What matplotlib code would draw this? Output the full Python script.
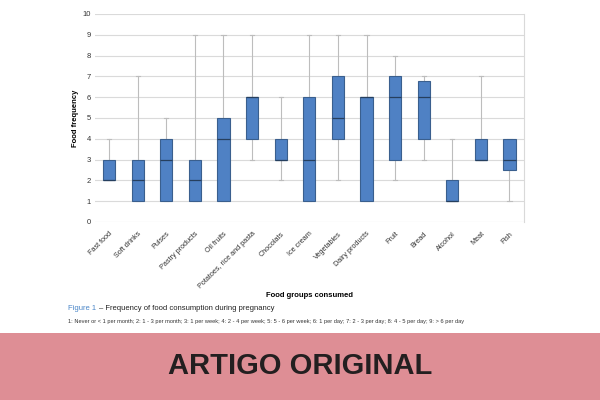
import matplotlib
matplotlib.use("Agg")
import matplotlib.pyplot as plt
from matplotlib.patches import Rectangle

plt.rcParams['font.family'] = ['Liberation Sans', 'DejaVu Sans']

categories = ["Fast food", "Soft drinks", "Pulses", "Pastry products", "Oil fruits",
              "Potatoes, rice and pasta", "Chocolats", "Ice cream", "Vegetables",
              "Dairy products", "Fruit", "Bread", "Alcohol", "Meat", "Fish"]
whisker_low = [2, 1, 1, 1, 1, 3, 2, 1, 2, 1, 2, 3, 1, 3, 1]
q1 = [2, 1, 1, 1, 1, 4, 3, 1, 4, 1, 3, 4, 1, 3, 2.5]
median = [2, 2, 3, 2, 4, 6, 3, 3, 5, 6, 6, 6, 1, 3, 3]
q3 = [3, 3, 4, 3, 5, 6, 4, 6, 7, 6, 7, 6.8, 2, 4, 4]
whisker_high = [4, 7, 5, 9, 9, 9, 6, 9, 9, 9, 8, 7, 4, 7, 4]
y_ticks = list(range(0, 11))

stats = []
for name, lo, a, m, b, hi in zip(categories, whisker_low, q1, median, q3, whisker_high):
    stats.append(dict(label=name, whislo=lo, q1=a, med=m, q3=b, whishi=hi, fliers=[]))

fig = plt.figure(figsize=(6, 4), dpi=100)
ax = fig.add_axes([0.158, 0.445, 0.715, 0.52])

ax.bxp(stats, positions=range(len(categories)), widths=0.42, patch_artist=True,
       showfliers=False, capwidths=0.15,
       boxprops=dict(facecolor="#4f81c4", edgecolor="#3a5f8e", linewidth=0.8, zorder=3),
       medianprops=dict(color="#263f5e", linewidth=0.9, zorder=4),
       whiskerprops=dict(color="#bdbdbd", linewidth=0.8, zorder=2),
       capprops=dict(color="#bdbdbd", linewidth=0.8, zorder=2))

ax.set_xlim(-0.5, len(categories) - 0.5)
ax.set_ylim(0, 10)
ax.set_yticks(y_ticks)
ax.yaxis.grid(True, color="#dadada", linewidth=0.8)
ax.set_axisbelow(True)
for s in ("left", "top", "bottom"):
    ax.spines[s].set_visible(False)
ax.spines["right"].set_color("#d9d9d9")
ax.spines["right"].set_linewidth(0.8)
ax.tick_params(axis="both", length=0, labelsize=5.2, colors="#333333")
ax.tick_params(axis="y", pad=3, labelsize=5.5)
ax.tick_params(axis="x", pad=6)
ax.set_xticks(range(len(categories)))
ax.set_xticklabels(categories, rotation=45, ha="right", rotation_mode="anchor")

ax.set_ylabel("Food frequency", fontsize=5.5, fontweight="bold", labelpad=2)
ax.set_xlabel("Food groups consumed", fontsize=5.5, fontweight="bold")
ax.xaxis.set_label_coords(0.5, -0.335)

fig.text(0.113, 0.228, "Figure 1", color="#4a86c8", fontsize=5.5, va="center")
fig.text(0.113 + 0.052, 0.228, "\u2013 Frequency of food consumption during pregnancy",
         color="#222222", fontsize=5.5, va="center")
fig.text(0.113, 0.197,
         "1: Never or < 1 per month; 2: 1 - 3 per month; 3: 1 per week; 4: 2 - 4 per week; "
         "5: 5 - 6 per week; 6: 1 per day; 7: 2 - 3 per day; 8: 4 - 5 per day; 9: > 6 per day",
         color="#333333", fontsize=4.1, va="center")

fig.patches.append(Rectangle((0, 0), 1, 0.167, transform=fig.transFigure,
                             facecolor="#de8e95", edgecolor="none", zorder=0))
fig.text(0.5, 0.085, "ARTIGO ORIGINAL", ha="center", va="center",
         fontsize=21, fontweight="bold", color="#231f20")

fig.savefig("out.png", dpi=100)
